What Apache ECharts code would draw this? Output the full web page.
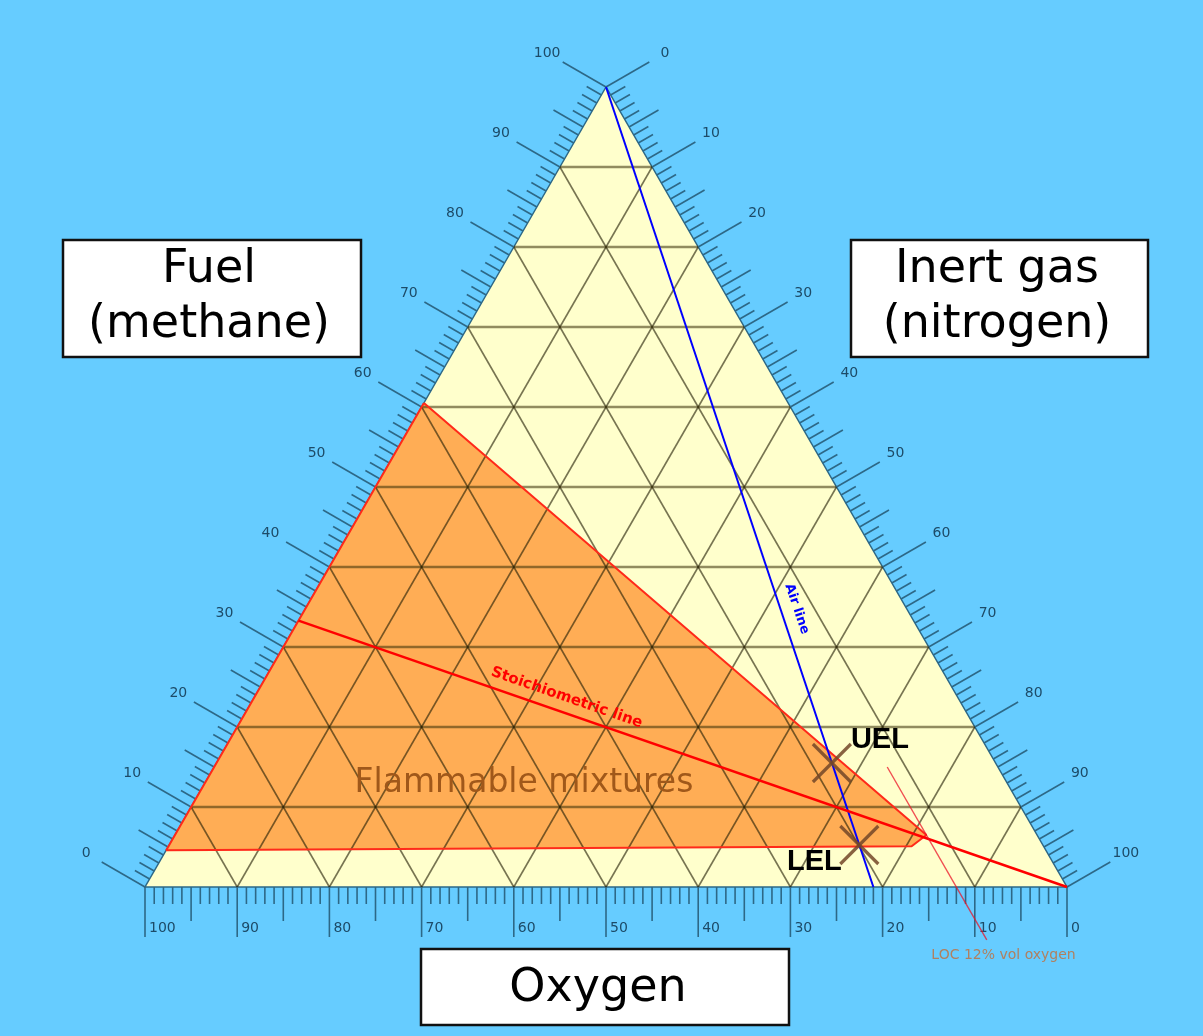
<!DOCTYPE html>
<html>
<head>
<meta charset="utf-8">
<title>Flammability diagram - methane</title>
<script src="https://cdn.jsdelivr.net/npm/echarts@6.0.0/dist/echarts.min.js"></script>
<style>
    html, body { margin: 0; padding: 0; background: #66ccff; }
    #chart { width: 1203px; height: 1036px; }
</style>
</head>
<body>
<div id="chart"></div>
<script>
    // all points are [fuel, oxygen, nitrogen] in vol %
    const vertices = [[100, 0, 0], [0, 100, 0], [0, 0, 100]];
    const gridSteps = [10, 20, 30, 40, 50, 60, 70, 80, 90];
    const tickLabels = ['0', '10', '20', '30', '40', '50', '60', '70', '80', '90', '100'];
    const flammableRegion = [[60.5, 39.5, 0], [4.6, 95.4, 0], [5.1, 14.3, 80.6], [6.5, 12, 81.5]];
    const airLine = [[100, 0, 0], [0, 21, 79]];
    const stoichLine = [[33.3, 66.7, 0], [0, 0, 100]];
    const locLine = [[15, 12, 73], [-6.6, 12, 94.6]];
    const limitNames = ['UEL', 'LEL'];
    const limitPoints = [[15.5, 17.75, 66.75], [5.25, 19.9, 74.85]];

    const H = Math.sqrt(3) / 2;
    function toXY(p) {
        return [p[2] + p[0] / 2, p[0] * H];
    }

    // point on a side of the triangle: 0 = oxygen (bottom), 1 = fuel (left), 2 = nitrogen (right)
    function edgePoint(side, v) {
        if (side === 0) return [0, v, 100 - v];
        if (side === 1) return [v, 100 - v, 0];
        return [100 - v, 0, v];
    }
    const tickDirs = [[0, 1], [-H, -0.5], [H, -0.5]];

    let tickData = [];
    for (let side = 0; side < 3; side++) {
        for (let v = 0; v <= 100; v++) tickData.push([side, v]);
    }

    const tickColor = '#2d6887';
    const labelFont = '14px "DejaVu Sans"';

    let myChart = echarts.init(document.getElementById('chart'));
    myChart.setOption({
        backgroundColor: '#66ccff',
        animation: false,
        grid: {
            left: 145,
            right: 136,
            top: 87,
            bottom: 149
        },
        xAxis: { type: 'value', min: 0, max: 100, show: false },
        yAxis: { type: 'value', min: 0, max: 100 * H, show: false },
        graphic: [
            {
                type: 'rect', z: 100,
                shape: { x: 63, y: 240, width: 298, height: 117 },
                style: { fill: '#fff', stroke: '#111', lineWidth: 2.5 }
            },
            {
                type: 'text', z: 101, x: 209, y: 298,
                style: { text: 'Fuel\n(methane)', font: '46px "DejaVu Sans"', fill: '#000', align: 'center', verticalAlign: 'middle', lineHeight: 55 }
            },
            {
                type: 'rect', z: 100,
                shape: { x: 851, y: 240, width: 297, height: 117 },
                style: { fill: '#fff', stroke: '#111', lineWidth: 2.5 }
            },
            {
                type: 'text', z: 101, x: 997, y: 298,
                style: { text: 'Inert gas\n(nitrogen)', font: '46px "DejaVu Sans"', fill: '#000', align: 'center', verticalAlign: 'middle', lineHeight: 55 }
            },
            {
                type: 'rect', z: 100,
                shape: { x: 421, y: 949, width: 368, height: 76 },
                style: { fill: '#fff', stroke: '#111', lineWidth: 2.5 }
            },
            {
                type: 'text', z: 101, x: 598, y: 989,
                style: { text: 'Oxygen', font: '46px "DejaVu Sans"', fill: '#000', align: 'center', verticalAlign: 'middle' }
            }
        ],
        series: [
            {
                // triangle background + border
                name: 'triangle',
                type: 'custom',
                z: 1,
                data: [[0, 0]],
                renderItem(params, api) {
                    return {
                        type: 'polygon',
                        shape: { points: vertices.map(p => api.coord(toXY(p))) },
                        style: { fill: '#ffffcc', stroke: tickColor, lineWidth: 1.5 }
                    };
                }
            },
            {
                name: 'flammable fill',
                type: 'custom',
                z: 2,
                data: [[0, 0]],
                renderItem(params, api) {
                    return {
                        type: 'polygon',
                        shape: { points: flammableRegion.map(p => api.coord(toXY(p))) },
                        style: { fill: '#ffad55' }
                    };
                }
            },
            {
                name: 'grid',
                type: 'custom',
                z: 3,
                data: gridSteps.map(g => [g, 0]),
                renderItem(params, api) {
                    const g = api.value(0);
                    const seg = (a, b, style) => {
                        const p1 = api.coord(toXY(a)), p2 = api.coord(toXY(b));
                        return { type: 'line', shape: { x1: p1[0], y1: p1[1], x2: p2[0], y2: p2[1] }, style };
                    };
                    const diag = { stroke: 'rgba(35,30,5,0.62)', lineWidth: 1.6 };
                    return {
                        type: 'group',
                        children: [
                            seg([g, 100 - g, 0], [g, 0, 100 - g], { stroke: 'rgba(55,45,5,0.55)', lineWidth: 2.6 }),
                            seg([0, g, 100 - g], [100 - g, g, 0], diag),
                            seg([0, 100 - g, g], [100 - g, 0, g], diag)
                        ]
                    };
                }
            },
            {
                name: 'ticks',
                type: 'custom',
                z: 3,
                data: tickData,
                renderItem(params, api) {
                    const side = api.value(0), v = api.value(1);
                    const p = api.coord(toXY(edgePoint(side, v)));
                    const d = tickDirs[side];
                    const len = v % 10 === 0 ? 50 : (v % 5 === 0 ? 34 : 17);
                    let children = [{
                        type: 'line',
                        shape: { x1: p[0], y1: p[1], x2: p[0] + d[0] * len, y2: p[1] + d[1] * len },
                        style: { stroke: tickColor, lineWidth: 1.6 }
                    }];
                    if (v % 10 === 0) {
                        const text = tickLabels[v / 10];
                        if (side === 0) {
                            children.push({ type: 'text', x: p[0] + 4, y: p[1] + 41,
                                style: { text, font: labelFont, fill: '#1d4b68', align: 'left', verticalAlign: 'middle' } });
                        } else {
                            children.push({ type: 'text', x: p[0] + d[0] * 68, y: p[1] + d[1] * 68,
                                style: { text, font: labelFont, fill: '#1d4b68', align: 'center', verticalAlign: 'middle' } });
                        }
                    }
                    return { type: 'group', children };
                }
            },
            {
                name: 'flammable border',
                type: 'line',
                z: 4,
                showSymbol: false,
                data: flammableRegion.concat([flammableRegion[0]]).map(toXY),
                lineStyle: { color: '#ff2a1a', width: 2 }
            },
            {
                name: 'Air line',
                type: 'line',
                z: 5,
                showSymbol: false,
                data: airLine.map(toXY),
                lineStyle: { color: '#0000ff', width: 2 }
            },
            {
                name: 'Stoichiometric line',
                type: 'line',
                z: 5,
                showSymbol: false,
                data: stoichLine.map(toXY),
                lineStyle: { color: '#ff0000', width: 2.5 }
            },
            {
                name: 'LOC',
                type: 'line',
                z: 5,
                clip: false,
                showSymbol: false,
                data: locLine.map(toXY),
                lineStyle: { color: 'rgba(235,20,40,0.75)', width: 1.4 }
            },
            {
                name: 'limits',
                type: 'custom',
                z: 6,
                data: limitPoints.map(toXY),
                renderItem(params, api) {
                    const p = api.coord([api.value(0), api.value(1)]);
                    const r = 19;
                    const off = params.dataIndex === 0 ? [48, -23] : [-45, 17];
                    const st = { stroke: 'rgba(115,70,40,0.85)', lineWidth: 3.2 };
                    return {
                        type: 'group',
                        children: [
                            { type: 'line', shape: { x1: p[0] - r, y1: p[1] - r, x2: p[0] + r, y2: p[1] + r }, style: st },
                            { type: 'line', shape: { x1: p[0] - r, y1: p[1] + r, x2: p[0] + r, y2: p[1] - r }, style: st },
                            { type: 'text', x: p[0] + off[0], y: p[1] + off[1],
                                style: { text: limitNames[params.dataIndex], font: 'bold 29px "Liberation Sans"', fill: '#000', align: 'center', verticalAlign: 'middle' } }
                        ]
                    };
                }
            },
            {
                name: 'annotations',
                type: 'custom',
                z: 6,
                data: [
                    toXY([13, 52.4, 34.6]),
                    toXY([21.9, 43.85, 34.25]),
                    toXY([34.25, 13.8, 51.95]),
                    toXY([-8.5, 12, 96.5])
                ],
                renderItem(params, api) {
                    const p = api.coord([api.value(0), api.value(1)]);
                    const looks = [
                        { text: 'Flammable mixtures', font: '33px "DejaVu Sans"', fill: '#a0581a', off: [0, 0], rot: 0 },
                        { text: 'Stoichiometric line', font: 'bold 15px "DejaVu Sans"', fill: '#ff0000', off: [5, -14], rot: -19.15 },
                        { text: 'Air line', font: 'bold 13px "DejaVu Sans"', fill: '#0000ff', off: [15, -4], rot: -71.5 },
                        { text: 'LOC 12% vol oxygen', font: '14px "DejaVu Sans"', fill: '#b08060', off: [8, 0], rot: 0 }
                    ];
                    const l = looks[params.dataIndex];
                    return {
                        type: 'text',
                        x: p[0] + l.off[0],
                        y: p[1] + l.off[1],
                        rotation: l.rot * Math.PI / 180,
                        style: { text: l.text, font: l.font, fill: l.fill, align: 'center', verticalAlign: 'middle' }
                    };
                }
            }
        ]
    });
</script>
</body>
</html>
